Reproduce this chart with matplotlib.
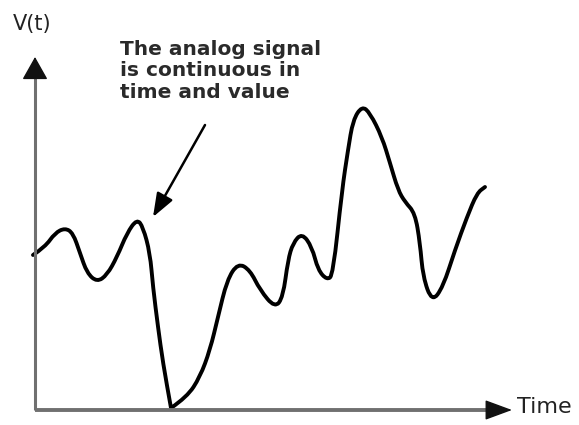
import matplotlib
matplotlib.use("Agg")
import matplotlib.pyplot as plt
from matplotlib.path import Path
from matplotlib.patches import PathPatch

# signal: time from the origin, value above the time axis
time = [-2, 10, 20, 30, 38, 45, 52, 62, 72, 82, 92, 102, 108, 115, 118, 123, 128, 136,
        152, 165, 175, 183, 192, 203, 215, 225, 240, 248, 253, 258, 267, 277, 283, 292,
        298, 307, 313, 318, 327, 335, 347, 355, 363, 370, 380, 385, 388, 397, 408, 420,
        432, 442, 450]
value = [155, 163, 177, 182, 177, 157, 137, 128, 135, 153, 177, 191, 183, 157, 123, 83,
         47, 2, 13, 33, 60, 93, 130, 147, 140, 120, 102, 113, 150, 167, 177, 163, 140,
         130, 135, 220, 260, 290, 304, 297, 273, 247, 220, 208, 197, 167, 133, 108, 123,
         160, 193, 217, 223]
# the dip at t=136 is a sharp corner in the drawing
corners = [17]

axis_top = 353
axis_right = 477
label_text = "The analog signal\nis continuous in\ntime and value"

fig = plt.figure(figsize=(5.79, 4.25), dpi=100)
ax = fig.add_axes([0, 0, 1, 1])
ax.set_xlim(-35, 544)
ax.set_ylim(-15, 410)
ax.axis("off")

# axes drawn as arrows: grey shaft, dark head
ax.plot([0, 0], [0, axis_top - 15], color="#707070", lw=2.2, solid_capstyle="butt")
ax.plot([0, axis_right - 15], [0, 0], color="#707070", lw=2.8, solid_capstyle="butt")
ax.annotate("", xy=(0, axis_top), xytext=(0, axis_top - 20),
            arrowprops=dict(arrowstyle="-|>,head_length=0.8,head_width=0.45",
                            mutation_scale=18, color="#111111", lw=1,
                            shrinkA=0, shrinkB=0))
ax.annotate("", xy=(axis_right, 0), xytext=(axis_right - 24, 0),
            arrowprops=dict(arrowstyle="-|>,head_length=0.95,head_width=0.35",
                            mutation_scale=18, color="#111111", lw=1,
                            shrinkA=0, shrinkB=0))

# smooth stroke: read points act as quadratic control points
pts = list(zip(time, value))
verts = [pts[0]]
codes = [Path.MOVETO]
for i in range(1, len(pts) - 1):
    nxt = ((pts[i][0] + pts[i + 1][0]) / 2, (pts[i][1] + pts[i + 1][1]) / 2)
    if i in corners:
        verts += [pts[i]]
        codes += [Path.LINETO]
    else:
        verts += [pts[i], nxt]
        codes += [Path.CURVE3, Path.CURVE3]
verts.append(pts[-1])
codes.append(Path.LINETO)
ax.add_patch(PathPatch(Path(verts, codes), facecolor="none", edgecolor="black",
                       lw=2.8, joinstyle="round", capstyle="round"))

ax.text(-3, 386, "V(t)", fontsize=15, ha="center", va="center", color="#222222")
ax.text(482, 3, "Time", fontsize=16, ha="left", va="center", color="#222222")

ax.text(85, 370, label_text, fontsize=14.5, fontweight="bold", ha="left", va="top",
        linespacing=1.15, color="#2a2a2a")
ax.annotate("", xy=(118, 193), xytext=(170, 285),
            arrowprops=dict(arrowstyle="-|>,head_length=0.8,head_width=0.3",
                            mutation_scale=18, color="black", lw=1.8,
                            shrinkA=0, shrinkB=0))

plt.savefig("out.png", dpi=100)
